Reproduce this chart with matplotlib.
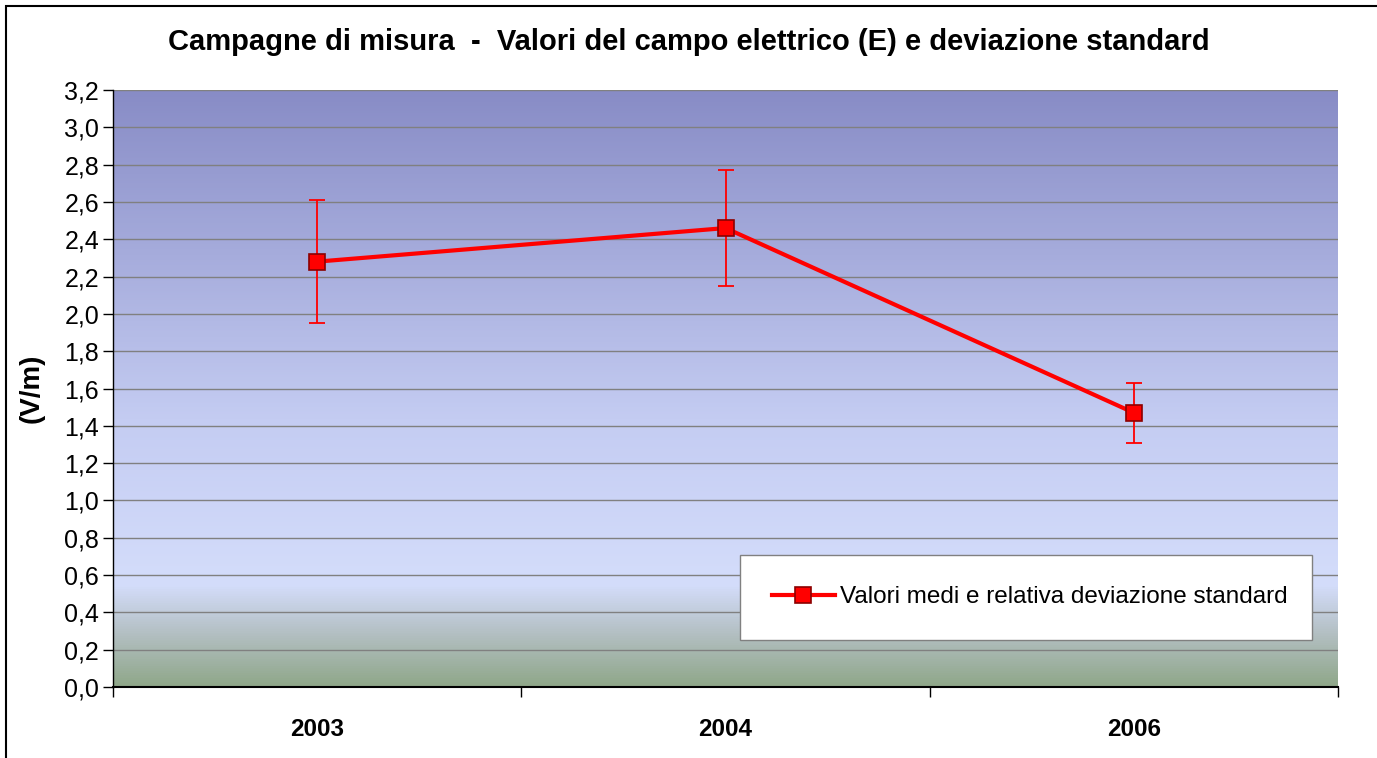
import matplotlib
matplotlib.use("Agg")
import matplotlib.pyplot as plt
import numpy as np
from matplotlib.colors import LinearSegmentedColormap
from matplotlib.patches import Rectangle

plt.rcParams['font.family'] = ['Liberation Sans', 'DejaVu Sans']

years = ["2003", "2004", "2006"]
means = [2.28, 2.46, 1.47]
stds = [0.33, 0.31, 0.16]
yticks = [0.0, 0.2, 0.4, 0.6, 0.8, 1.0, 1.2, 1.4, 1.6, 1.8, 2.0, 2.2, 2.4, 2.6, 2.8, 3.0, 3.2]
title = "Campagne di misura  -  Valori del campo elettrico (E) e deviazione standard"
ylabel = "(V/m)"
legend_label = "Valori medi e relativa deviazione standard"

fig = plt.figure(figsize=(13.77, 7.58), dpi=100)
ax = fig.add_axes([113/1377, 1-687/758, (1338-113)/1377, (687-90)/758])

# gradient background
cmap = LinearSegmentedColormap.from_list("bg", [
    (0.0, "#8fa789"),
    (0.09, "#b4c0c4"),
    (0.17, "#d4ddfb"),
    (0.45, "#c4ccf2"),
    (1.0, "#888cc6"),
])
grad = np.linspace(0, 1, 512).reshape(-1, 1)
ax.imshow(grad, aspect='auto', cmap=cmap, origin='lower',
          extent=[-0.5, 2.5, 0, 3.2], zorder=0)

x = np.arange(len(years))
for yt in yticks[1:]:
    ax.axhline(yt, color="#808080", lw=1.0, zorder=1)

ax.errorbar(x, means, yerr=stds, fmt='none', ecolor='#ff0000', elinewidth=1.3,
            capsize=5.5, capthick=1.3, zorder=3)
ax.plot(x, means, color='#ff0000', lw=3, marker='s', markersize=12,
        markerfacecolor='#ff0000', markeredgecolor='#8b0000', markeredgewidth=1.2,
        zorder=4, label=legend_label)

ax.set_xlim(-0.5, 2.5)
ax.set_ylim(0, 3.2)
ax.set_yticks(yticks)
ax.set_yticklabels([f"{v:.1f}".replace('.', ',') for v in yticks], fontsize=18)
ax.set_xticks(x)
ax.set_xticklabels(years, fontsize=17.5, fontweight='bold')
ax.tick_params(axis='x', length=0, pad=22)
ax.set_xticks([-0.5, 0.5, 1.5, 2.5], minor=True)
ax.tick_params(axis='x', which='minor', length=7, direction='out', width=1)
ax.tick_params(axis='y', length=7, direction='out', width=1, pad=3)

for s in ['top', 'right']:
    ax.spines[s].set_visible(False)
ax.spines['left'].set_color('black')
ax.spines['bottom'].set_color('black')
ax.spines['left'].set_linewidth(1)
ax.spines['bottom'].set_linewidth(1.5)

ax.set_ylabel(ylabel, fontsize=20, fontweight='bold', labelpad=14)

fig.text(0.5, 1-42/758, title, ha='center', va='center', fontsize=21, fontweight='bold')

leg = ax.legend(loc='lower left', bbox_to_anchor=((740-113)/1225, (687-640)/597, (1312-740)/1225, (640-558)/597),
                mode='expand', fontsize=17.5, frameon=True, fancybox=False, borderaxespad=0,
                handlelength=2.6, borderpad=1.3, handletextpad=0.2)
leg.get_frame().set_edgecolor('#808080')
leg.get_frame().set_linewidth(1)
leg.get_frame().set_facecolor('white')
leg.get_frame().set_alpha(1)

fig.patches.append(Rectangle((6/1377, -0.01), 1.1, 1 - 6/758 + 0.01, transform=fig.transFigure,
                             fill=False, edgecolor='black', lw=1.5))

fig.savefig("out.png", dpi=100)
